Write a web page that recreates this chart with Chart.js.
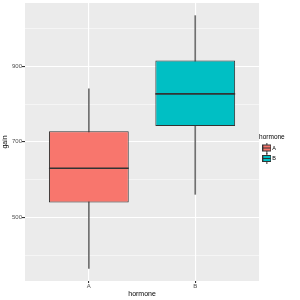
<!DOCTYPE html>
<html>
<head>
<meta charset="utf-8">
<script src="https://cdn.jsdelivr.net/npm/chart.js@4"></script>
<style>
  html, body { margin: 0; padding: 0; background: #fff; }
  #wrap { width: 300px; height: 300px; }
</style>
</head>
<body>
<div id="wrap"><canvas id="box-chart"></canvas></div>
<script>
// boxplot summaries
const categories = ["A", "B"];
const whiskerLow = [365, 561];
const lowerQuartile = [539, 742];
const medians = [630, 827];
const upperQuartile = [728, 915];
const whiskerHigh = [840, 1034];
const yLabels = [500, 700, 900];
const fills = ["#F8766D", "#00BFC4"];

const font = "'Liberation Sans', Arial, sans-serif";

// small boxplot icon for the legend keys
function keyIcon(fill) {
	const c = document.createElement("canvas");
	c.width = 9; c.height = 11;
	const g = c.getContext("2d");
	g.strokeStyle = "#333";
	g.lineWidth = 1;
	g.beginPath(); g.moveTo(4.5, 0); g.lineTo(4.5, 2); g.moveTo(4.5, 9); g.lineTo(4.5, 11); g.stroke();
	g.fillStyle = fill;
	g.fillRect(0.5, 2.5, 8, 6);
	g.strokeRect(0.5, 2.5, 8, 6);
	g.beginPath(); g.moveTo(0.5, 5.5); g.lineTo(8.5, 5.5); g.stroke();
	return c;
}
const icons = fills.map(keyIcon);

const panelBg = {
	id: "panelBg",
	beforeDraw(chart) {
		const a = chart.chartArea, ctx = chart.ctx;
		ctx.save();
		ctx.fillStyle = "#EBEBEB";
		ctx.fillRect(a.left, a.top, a.right - a.left, a.bottom - a.top);
		ctx.restore();
	}
};

const medianLine = {
	id: "medianLine",
	afterDatasetsDraw(chart) {
		const meta = chart.getDatasetMeta(0);
		const y = chart.scales.y, ctx = chart.ctx;
		ctx.save();
		ctx.strokeStyle = "#333333";
		ctx.lineWidth = 1.6;
		meta.data.forEach((bar, i) => {
			const py = y.getPixelForValue(medians[i]);
			ctx.beginPath();
			ctx.moveTo(bar.x - bar.width / 2, py);
			ctx.lineTo(bar.x + bar.width / 2, py);
			ctx.stroke();
		});
		ctx.restore();
	}
};

new Chart(document.getElementById("box-chart"), {
	type: "bar",
	data: {
		datasets: [
			{
				label: "box",
				data: categories.map((c, i) => ({ x: i + 1, y: [lowerQuartile[i], upperQuartile[i]] })),
				backgroundColor: fills,
				borderColor: "#333333",
				borderWidth: 1,
				borderSkipped: false,
				grouped: false,
				categoryPercentage: 1,
				barPercentage: 0.75,
				order: 0
			},
			{
				label: "whisker",
				data: categories.map((c, i) => ({ x: i + 1, y: [whiskerLow[i], whiskerHigh[i]] })),
				backgroundColor: "rgba(51,51,51,0.7)",
				borderWidth: 0,
				grouped: false,
				barThickness: 1,
				order: 1
			}
		]
	},
	options: {
		responsive: true,
		maintainAspectRatio: false,
		animation: false,
		layout: { padding: { top: 0, right: 14, left: 2, bottom: 0 } },
		plugins: {
			tooltip: { enabled: false },
			legend: {
				position: "right",
				title: { display: true, position: "start", text: "hormone", color: "#000", font: { family: font, size: 6.5, lineHeight: 1 }, padding: { top: 0, bottom: 0 } },
				labels: {
					usePointStyle: true,
					color: "#000",
					font: { family: font, size: 5.5 },
					padding: 5,
					boxWidth: 9,
					generateLabels: () => categories.map((c, i) => ({
						text: c, pointStyle: icons[i], fillStyle: fills[i], strokeStyle: "#333", lineWidth: 0, hidden: false, datasetIndex: 0
					}))
				}
			}
		},
		scales: {
			x: {
				type: "linear",
				min: 0.4,
				max: 2.6,
				offset: false,
				afterBuildTicks: (s) => { s.ticks = categories.map((c, i) => ({ value: i + 1 })); },
				ticks: {
					callback: (v) => categories[v - 1],
					color: "#4D4D4D",
					font: { family: font, size: 6, lineHeight: 1 },
					padding: 0,
					maxRotation: 0,
					autoSkip: false
				},
				grid: { offset: false, color: "#FFFFFF", lineWidth: 1.1, tickColor: "#333333", tickLength: 2 },
				border: { display: false },
				title: { display: true, text: "hormone", color: "#000", font: { family: font, size: 7, lineHeight: 1 }, padding: { top: 2, bottom: 2 } }
			},
			y: {
				min: 331.5,
				max: 1067.5,
				ticks: {
					stepSize: 100,
					includeBounds: false,
					callback: (v) => yLabels.includes(v) ? String(v) : "",
					color: "#4D4D4D",
					font: { family: font, size: 6, lineHeight: 1 },
					padding: 0
				},
				grid: {
					color: "#FFFFFF",
					lineWidth: (ctx) => ctx.tick && yLabels.includes(ctx.tick.value) ? 1.1 : 0.5,
					tickColor: (ctx) => ctx.tick && yLabels.includes(ctx.tick.value) ? "#333333" : "rgba(0,0,0,0)",
					tickLength: 3
				},
				border: { display: false },
				title: { display: true, text: "gain", color: "#000", font: { family: font, size: 7, lineHeight: 1 }, padding: { top: 0, bottom: 3 } }
			}
		}
	},
	plugins: [panelBg, medianLine]
});
</script>
</body>
</html>
